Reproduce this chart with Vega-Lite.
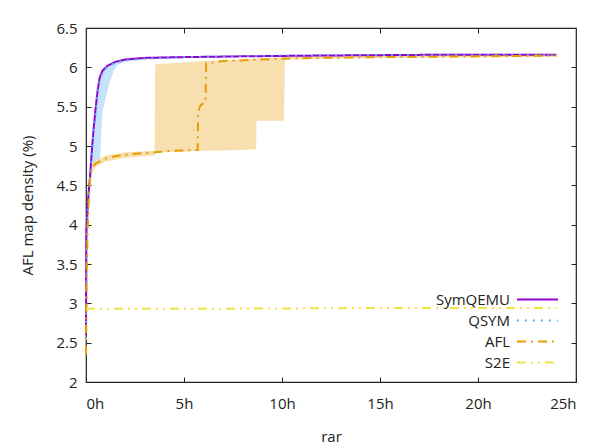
{
  "$schema": "https://vega.github.io/schema/vega-lite/v6.json",
  "width": 490,
  "height": 354,
  "padding": {"left": 86, "top": 28, "right": 16, "bottom": 66},
  "autosize": {"type": "none"},
  "background": "#ffffff",
  "config": {
    "view": {"stroke": "#222222", "strokeWidth": 1.2},
    "font": "Open Sans",
    "axis": {"grid": false, "domain": false, "labelFont": "Open Sans", "labelFontSize": 15, "labelColor": "#222222", "titleFont": "Open Sans", "titleFontSize": 15, "titleColor": "#222222", "titleFontWeight": "normal", "tickColor": "#222222", "tickSize": -5, "tickWidth": 1}
  },
  "datasets": {
    "lines": [
      {"s": "SymQEMU", "h": 0, "v": 2.6},
      {"s": "SymQEMU", "h": 0.02, "v": 3.9},
      {"s": "SymQEMU", "h": 0.1, "v": 4.3},
      {"s": "SymQEMU", "h": 0.2, "v": 4.6},
      {"s": "SymQEMU", "h": 0.3, "v": 4.95},
      {"s": "SymQEMU", "h": 0.4, "v": 5.25},
      {"s": "SymQEMU", "h": 0.5, "v": 5.5},
      {"s": "SymQEMU", "h": 0.6, "v": 5.72},
      {"s": "SymQEMU", "h": 0.7, "v": 5.87},
      {"s": "SymQEMU", "h": 0.85, "v": 5.96},
      {"s": "SymQEMU", "h": 1.1, "v": 6.02},
      {"s": "SymQEMU", "h": 1.5, "v": 6.07},
      {"s": "SymQEMU", "h": 2, "v": 6.1},
      {"s": "SymQEMU", "h": 3, "v": 6.12},
      {"s": "SymQEMU", "h": 5, "v": 6.13},
      {"s": "SymQEMU", "h": 8, "v": 6.14},
      {"s": "SymQEMU", "h": 12, "v": 6.15},
      {"s": "SymQEMU", "h": 18, "v": 6.16},
      {"s": "SymQEMU", "h": 24, "v": 6.16},
      {"s": "QSYM", "h": 0, "v": 2.55},
      {"s": "QSYM", "h": 0.03, "v": 3.8},
      {"s": "QSYM", "h": 0.1, "v": 4.25},
      {"s": "QSYM", "h": 0.2, "v": 4.55},
      {"s": "QSYM", "h": 0.3, "v": 4.9},
      {"s": "QSYM", "h": 0.4, "v": 5.2},
      {"s": "QSYM", "h": 0.5, "v": 5.45},
      {"s": "QSYM", "h": 0.6, "v": 5.68},
      {"s": "QSYM", "h": 0.7, "v": 5.84},
      {"s": "QSYM", "h": 0.85, "v": 5.94},
      {"s": "QSYM", "h": 1.1, "v": 6.01},
      {"s": "QSYM", "h": 1.5, "v": 6.06},
      {"s": "QSYM", "h": 2, "v": 6.09},
      {"s": "QSYM", "h": 3, "v": 6.11},
      {"s": "QSYM", "h": 5, "v": 6.13},
      {"s": "QSYM", "h": 10, "v": 6.15},
      {"s": "QSYM", "h": 18, "v": 6.16},
      {"s": "QSYM", "h": 24, "v": 6.16},
      {"s": "AFL", "h": 0, "v": 2.35},
      {"s": "AFL", "h": 0.03, "v": 3.3},
      {"s": "AFL", "h": 0.08, "v": 3.9},
      {"s": "AFL", "h": 0.15, "v": 4.35},
      {"s": "AFL", "h": 0.22, "v": 4.62},
      {"s": "AFL", "h": 0.3, "v": 4.72},
      {"s": "AFL", "h": 0.5, "v": 4.78},
      {"s": "AFL", "h": 1, "v": 4.84},
      {"s": "AFL", "h": 1.5, "v": 4.87},
      {"s": "AFL", "h": 2.5, "v": 4.9},
      {"s": "AFL", "h": 3.5, "v": 4.92},
      {"s": "AFL", "h": 4.5, "v": 4.94},
      {"s": "AFL", "h": 5.7, "v": 4.95},
      {"s": "AFL", "h": 5.72, "v": 5.42},
      {"s": "AFL", "h": 5.8, "v": 5.5},
      {"s": "AFL", "h": 5.9, "v": 5.53},
      {"s": "AFL", "h": 6.1, "v": 5.55},
      {"s": "AFL", "h": 6.13, "v": 6.05},
      {"s": "AFL", "h": 7, "v": 6.08},
      {"s": "AFL", "h": 10, "v": 6.11},
      {"s": "AFL", "h": 12, "v": 6.12},
      {"s": "AFL", "h": 15, "v": 6.13},
      {"s": "AFL", "h": 20, "v": 6.14},
      {"s": "AFL", "h": 24, "v": 6.15},
      {"s": "S2E", "h": 0, "v": 2.93},
      {"s": "S2E", "h": 5, "v": 2.93},
      {"s": "S2E", "h": 10, "v": 2.935},
      {"s": "S2E", "h": 15, "v": 2.94},
      {"s": "S2E", "h": 20, "v": 2.94},
      {"s": "S2E", "h": 24, "v": 2.94}
    ],
    "qband": [
      {"h": 0.15, "lo": 4.3, "hi": 4.5},
      {"h": 0.25, "lo": 4.55, "hi": 4.8},
      {"h": 0.35, "lo": 4.68, "hi": 5.1},
      {"h": 0.45, "lo": 4.72, "hi": 5.38},
      {"h": 0.55, "lo": 4.76, "hi": 5.62},
      {"h": 0.65, "lo": 4.8, "hi": 5.8},
      {"h": 0.72, "lo": 4.84, "hi": 5.9},
      {"h": 0.78, "lo": 5.2, "hi": 5.94},
      {"h": 0.85, "lo": 5.45, "hi": 5.96},
      {"h": 1.0, "lo": 5.6, "hi": 6.0},
      {"h": 1.2, "lo": 5.8, "hi": 6.03},
      {"h": 1.4, "lo": 5.95, "hi": 6.06},
      {"h": 1.6, "lo": 6.03, "hi": 6.08},
      {"h": 2, "lo": 6.07, "hi": 6.11},
      {"h": 3, "lo": 6.1, "hi": 6.13},
      {"h": 5, "lo": 6.12, "hi": 6.14},
      {"h": 10, "lo": 6.14, "hi": 6.16},
      {"h": 24, "lo": 6.15, "hi": 6.17}
    ],
    "aband": [
      {"h": 0.3, "lo": 4.66, "hi": 4.77},
      {"h": 0.5, "lo": 4.74, "hi": 4.82},
      {"h": 1, "lo": 4.8, "hi": 4.88},
      {"h": 2, "lo": 4.85, "hi": 4.92},
      {"h": 3.5, "lo": 4.88, "hi": 4.94},
      {"h": 3.53, "lo": 4.92, "hi": 6.04},
      {"h": 5, "lo": 4.93, "hi": 6.06},
      {"h": 6, "lo": 4.94, "hi": 6.08},
      {"h": 8, "lo": 4.95, "hi": 6.1},
      {"h": 8.68, "lo": 4.96, "hi": 6.11},
      {"h": 8.7, "lo": 5.32, "hi": 6.11},
      {"h": 10.1, "lo": 5.32, "hi": 6.13},
      {"h": 10.15, "lo": 6.1, "hi": 6.14},
      {"h": 15, "lo": 6.12, "hi": 6.15},
      {"h": 24, "lo": 6.13, "hi": 6.16}
    ]
  },
  "layer": [
    {
      "data": {"name": "qband"},
      "mark": {"type": "area", "color": "#c4e3f8"},
      "encoding": {
        "x": {"field": "h", "type": "quantitative", "scale": {"domain": [0, 25], "nice": false}, "axis": {"orient": "top", "labels": false, "title": null, "values": [5, 10, 15, 20]}},
        "y": {"field": "lo", "type": "quantitative", "scale": {"domain": [2, 6.5], "nice": false, "zero": false}, "axis": {"orient": "right", "labels": false, "title": null, "values": [2.5, 3, 3.5, 4, 4.5, 5, 5.5, 6]}},
        "y2": {"field": "hi"}
      }
    },
    {
      "data": {"name": "aband"},
      "mark": {"type": "area", "color": "#f8dfb0"},
      "encoding": {
        "x": {"field": "h", "type": "quantitative", "axis": null},
        "y": {"field": "lo", "type": "quantitative", "axis": null},
        "y2": {"field": "hi"}
      }
    },
    {
      "data": {"name": "lines"},
      "mark": {"type": "line", "strokeWidth": 2},
      "encoding": {
        "x": {"field": "h", "type": "quantitative", "title": "rar", "axis": {"orient": "bottom", "values": [0, 5, 10, 15, 20, 25], "labelExpr": "datum.value + 'h'", "labelPadding": 19, "titlePadding": 18}},
        "y": {"field": "v", "type": "quantitative", "title": "AFL map density (%)", "axis": {"orient": "left", "values": [2, 2.5, 3, 3.5, 4, 4.5, 5, 5.5, 6, 6.5], "format": "~g", "labelPadding": 14, "titlePadding": 20}},
        "color": {"field": "s", "type": "nominal", "sort": ["SymQEMU", "QSYM", "AFL", "S2E"], "scale": {"domain": ["SymQEMU", "QSYM", "AFL", "S2E"], "range": ["#9400d3", "#56b4e9", "#e69f00", "#f0e442"]},
          "legend": {"orient": "none", "legendX": 440, "legendY": 260, "title": null, "labelAlign": "right", "labelOffset": -39, "symbolSize": 420, "symbolStrokeWidth": 2, "symbolType": "M-2,0H2", "labelFontSize": 15, "labelFont": "Open Sans", "labelColor": "#222222", "rowPadding": 1, "padding": 0}},
        "strokeDash": {"field": "s", "type": "nominal", "sort": ["SymQEMU", "QSYM", "AFL", "S2E"], "scale": {"domain": ["SymQEMU", "QSYM", "AFL", "S2E"], "range": [[1, 0], [2, 6], [9, 5, 2, 5], [9, 5, 2, 5, 2, 5]]}}
      }
    }
  ],
  "resolve": {"axis": {"x": "independent", "y": "independent"}}
}
